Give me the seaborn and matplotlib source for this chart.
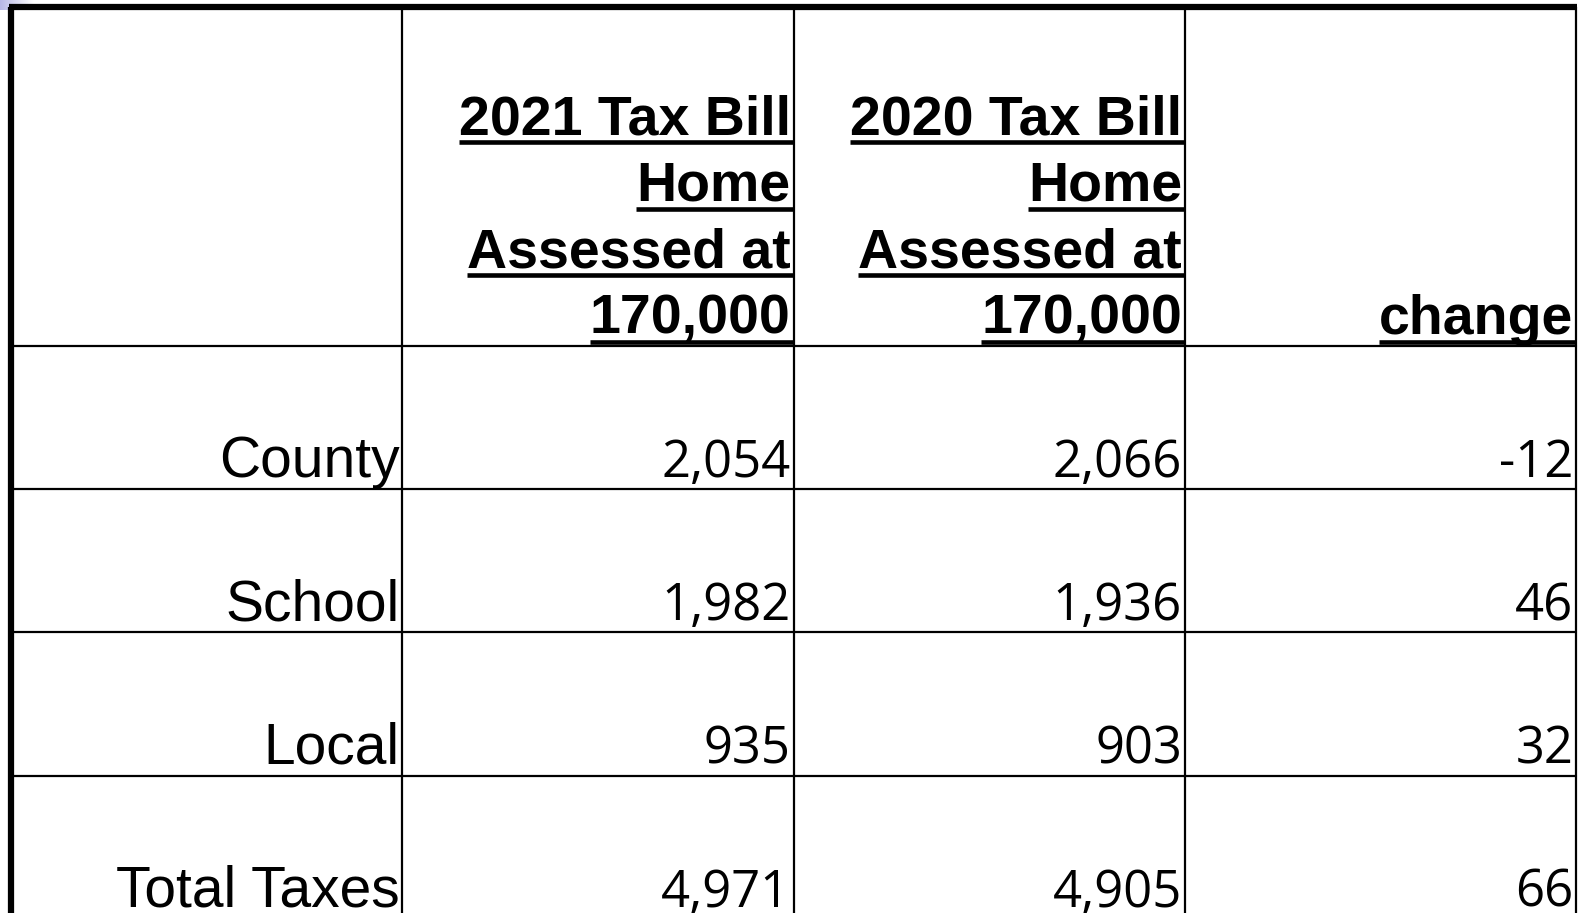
import numpy as np
import matplotlib
matplotlib.use("Agg")
import matplotlib.pyplot as plt
from matplotlib.colors import LinearSegmentedColormap
import seaborn as sns

# table data
categories = ["County", "School", "Local", "Total Taxes"]
bill_2021 = [2054, 1982, 935, 4971]
bill_2020 = [2066, 1936, 903, 4905]
change = [-12, 46, 32, 66]
headers = [
    ["2021 Tax Bill", "Home", "Assessed at", "170,000"],
    ["2020 Tax Bill", "Home", "Assessed at", "170,000"],
    ["change"],
]

sns.set_theme(style="white")

W, H = 1585, 913
fig = plt.figure(figsize=(W / 100, H / 100), dpi=100)
ax = fig.add_axes([0, 0, 1, 1])
ax.set_xlim(0, W)
ax.set_ylim(H, 0)
ax.axis("off")

# little slide-background fade in the top-left corner
fade = LinearSegmentedColormap.from_list("fade", ["#b8b8e6", "#ffffff"])
ax.imshow(np.linspace(0, 1, 64)[None, :], cmap=fade, aspect="auto",
          extent=[0, 34, 10, 0], zorder=0)

# grid geometry (pixels)
x0, col_w = 11, 391.3
col_edges = [x0 + i * col_w for i in range(5)]
y0, head_h, row_h = 7, 338.7, 143.3
row_edges = [y0 + head_h + i * row_h for i in range(len(categories) + 1)]

label_font = ["Liberation Sans Narrow", "Liberation Sans", "DejaVu Sans"]
num_font = ["Open Sans", "DejaVu Sans"]
head_font = ["Liberation Sans", "DejaVu Sans"]

# borders
ax.plot([x0, x0], [y0, H + 5], color="black", lw=4.5, solid_capstyle="butt")
ax.plot([x0 - 2, col_edges[-1] + 1], [y0, y0], color="black", lw=4.5, solid_capstyle="butt")
for xe in col_edges[1:]:
    ax.plot([xe, xe], [y0, H + 5], color="black", lw=1.6)
for ye in row_edges[:-1]:
    ax.plot([x0, col_edges[-1]], [ye, ye], color="black", lw=1.6)

pad = 3
base_off = 12

# body cells
cols = [categories,
        [f"{v:,}" for v in bill_2021],
        [f"{v:,}" for v in bill_2020],
        [f"{v:,}" for v in change]]
for ci, vals in enumerate(cols):
    for ri, s in enumerate(vals):
        if ci == 0:
            ax.text(col_edges[1] - pad, row_edges[ri + 1] - base_off, s,
                    ha="right", va="baseline", fontsize=41, family=label_font,
                    color="black")
        else:
            ax.text(col_edges[ci + 1] - pad, row_edges[ri + 1] - base_off, s,
                    ha="right", va="baseline", fontsize=36.5, family=num_font,
                    color="black")

# headers, bold + underlined
line_gap = 66.4
head_texts = []
for hi, lines in enumerate(headers):
    n = len(lines)
    for li, s in enumerate(lines):
        yb = row_edges[0] - base_off - (n - 1 - li) * line_gap
        t = ax.text(col_edges[hi + 2] - pad, yb, s, ha="right", va="baseline",
                    fontsize=40, fontweight="bold", family=head_font,
                    color="black")
        head_texts.append((t, yb, col_edges[hi + 2]))

fig.canvas.draw()
inv = ax.transData.inverted()
for t, yb, xr in head_texts:
    bb = t.get_window_extent()
    xa = inv.transform([[bb.x0, bb.y0]])[0][0]
    ax.plot([xa, xr - 1], [yb + 8, yb + 8], color="black", lw=3.3,
            solid_capstyle="butt")

fig.savefig("out.png", dpi=100, facecolor="white")
